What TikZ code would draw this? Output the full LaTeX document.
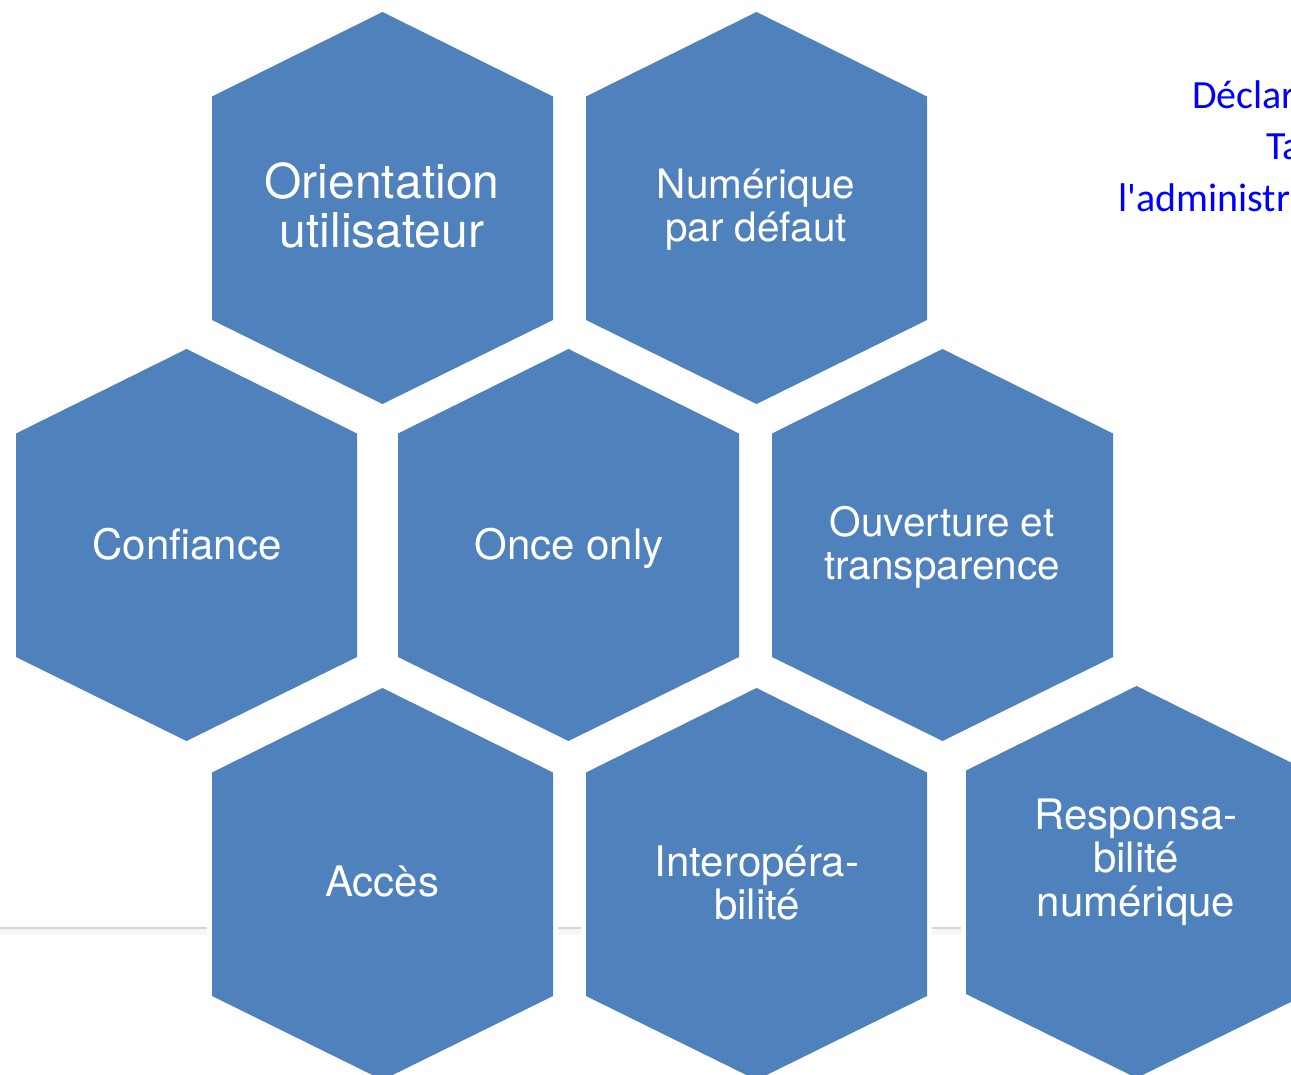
\documentclass[tikz,border=0pt]{standalone}
\usepackage{fontspec}
\setmainfont{TeX Gyre Heros}
\newfontfamily\calibri{Carlito}
\usepackage{xcolor}

\definecolor{hexblue}{RGB}{79,129,189}
\definecolor{rulegray}{RGB}{212,212,212}

\tikzset{
  hexa/.style={fill=hexblue, preaction={draw=white, line width=10pt, line join=miter}},
  hexlabel/.style={text=white, align=center, inner sep=0pt,
    font=\fontsize{42}{43.5}\selectfont},
  smalllabel/.style={hexlabel, font=\fontsize{40.5}{43}\selectfont},
  biglabel/.style={hexlabel, font=\fontsize{48}{49}\selectfont},
  titletext/.style={text=blue, anchor=base west, inner sep=0pt,
    font=\calibri\fontsize{40}{51}\selectfont}
}

\begin{document}
\begin{tikzpicture}[x=1pt,y=-1pt]
  \useasboundingbox (0,0) rectangle (1291,1075);
  \fill[white] (0,0) rectangle (1291,1075);

  % thin rule behind the honeycomb
  \draw[gray!6, line width=6pt] (0,932) -- (1291,932);
  \draw[rulegray, line width=2pt] (0,928) -- (1291,928);

  % honeycomb
  \foreach \cx/\cy in {382.5/208, 756.5/208,
                       186.5/545, 568.5/545, 942.5/545,
                       382.5/884, 756.5/884, 1136.5/882}
    \path[hexa] (\cx,\cy-196) -- (\cx+170.5,\cy-111.5) -- (\cx+170.5,\cy+112)
      -- (\cx,\cy+196) -- (\cx-170.5,\cy+112) -- (\cx-170.5,\cy-111.5) -- cycle;

  \node[biglabel] (orient) at (382,205) {Orientation\\utilisateur};
  \node[smalllabel] (numdef) at (756,210) {Numérique\\par défaut};
  \node[hexlabel] (conf) at (187,544) {Confiance};
  \node[hexlabel] (once) at (569,548) {Once only};
  \node[smalllabel] (ouvert) at (942,547) {Ouverture et\\transparence};
  \node[hexlabel] (acces) at (382,882) {Accès};
  \node[hexlabel] (interop) at (757,883) {Interopéra-\\bilité};
  \node[hexlabel] (respons) at (1136,862) {Responsa-\\bilité\\numérique};

  % title, cut by the right edge
  \node[titletext] (titA) at (1192,109) {Déclar};
  \node[titletext] (titB) at (1266,160) {Ta};
  \node[titletext] (titC) at (1118,212) {l'administr};
\end{tikzpicture}
\end{document}
